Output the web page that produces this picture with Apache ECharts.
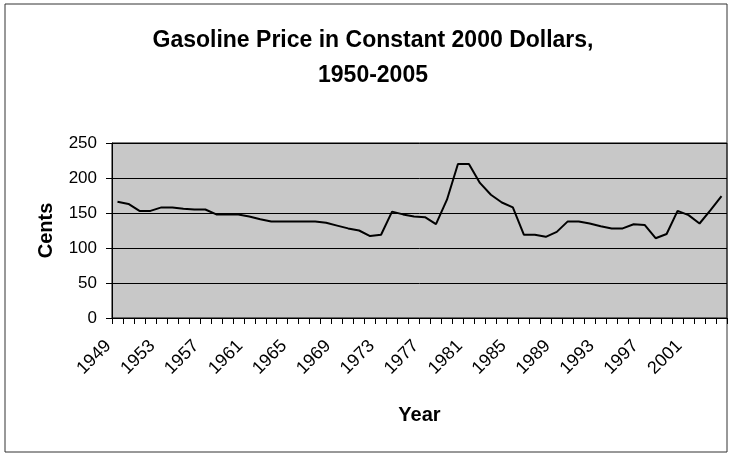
<!DOCTYPE html>
<html>
<head>
<meta charset="utf-8">
<script src="https://cdn.jsdelivr.net/npm/echarts@6/dist/echarts.min.js"></script>
<style>html,body{margin:0;padding:0;background:#fff;}#c{width:730px;height:455px;}</style>
</head>
<body>
<div id="c"></div>
<script>
const years = ['1949','1950','1951','1952','1953','1954','1955','1956','1957','1958',
'1959','1960','1961','1962','1963','1964','1965','1966','1967','1968',
'1969','1970','1971','1972','1973','1974','1975','1976','1977','1978',
'1979','1980','1981','1982','1983','1984','1985','1986','1987','1988',
'1989','1990','1991','1992','1993','1994','1995','1996','1997','1998',
'1999','2000','2001','2002','2003','2004'];
const cents = [166,163,153,153,158,158,156,155,155,148,
148,148,145,141,138,138,138,138,138,136,
132,128,125,117,119,152,148,145,144,134,
169,220,220,193,176,165,158,119,119,116,
123,138,138,135,131,128,128,134,133,114,
120,153,147,135,154,174];
const yTicks = [0,50,100,150,200,250];
const titleLines = ['Gasoline Price in Constant 2000 Dollars,','1950-2005'];

const font = 'Liberation Sans, Arial, sans-serif';
const chart = echarts.init(document.getElementById('c'));
chart.setOption({
  animation:false,
  backgroundColor:'#fff',
  graphic:[{type:'rect',shape:{x:5,y:4,width:722,height:448},style:{fill:'none',stroke:'#333',lineWidth:1}}],
  title:{text:titleLines.join('\n'),top:18,left:368,textAlign:'center',
    textStyle:{fontFamily:font,fontSize:23,fontWeight:'bold',color:'#000',lineHeight:35}},
  grid:{left:112,right:3,top:143,bottom:137,show:true,backgroundColor:'#c8c8c8',borderColor:'#000',borderWidth:1},
  xAxis:{type:'category',data:years,boundaryGap:true,
    name:'Year',nameLocation:'middle',nameGap:87,nameMoveOverlap:false,
    nameTextStyle:{fontFamily:font,fontSize:20,fontWeight:'bold',color:'#000'},
    axisLine:{lineStyle:{color:'#000',width:1}},
    axisTick:{show:true,interval:0,length:6,lineStyle:{color:'#000',width:1}},
    axisLabel:{interval:3,rotate:45,margin:16,padding:[0,13,0,0],fontFamily:font,fontSize:18,color:'#000'},
    splitLine:{show:false}},
  yAxis:{type:'value',min:yTicks[0],max:yTicks[yTicks.length-1],interval:50,
    name:'Cents',nameLocation:'middle',nameGap:56,nameRotate:90,nameMoveOverlap:false,
    nameTextStyle:{fontFamily:font,fontSize:20,fontWeight:'bold',color:'#000'},
    axisLine:{show:true,lineStyle:{color:'#000',width:1}},
    axisTick:{show:true,length:6,lineStyle:{color:'#000'}},
    axisLabel:{margin:15,fontFamily:font,fontSize:17,color:'#000'},
    splitLine:{show:true,lineStyle:{color:'#000',width:1}}},
  series:[{type:'line',data:cents,symbol:'none',lineStyle:{color:'#000',width:2}}]
});
</script>
</body>
</html>
